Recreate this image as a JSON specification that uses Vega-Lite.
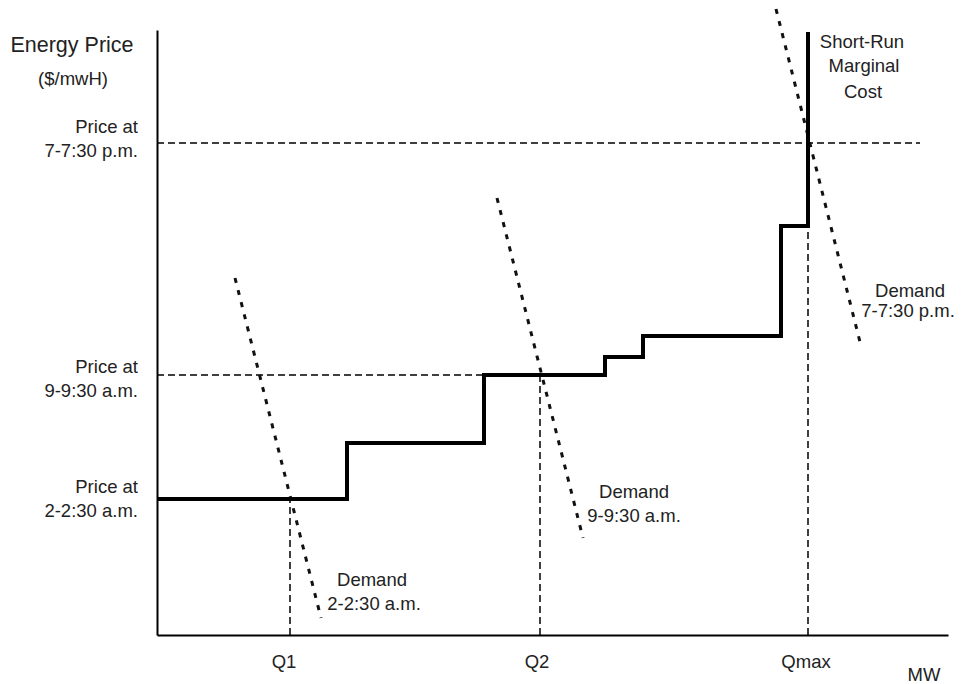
{
  "$schema": "https://vega.github.io/schema/vega-lite/v6.json",
  "width": 791,
  "height": 605,
  "autosize": {"type": "none"},
  "padding": {"left": 157, "top": 30, "right": 16, "bottom": 49},
  "background": "white",
  "config": {
    "view": {"stroke": null},
    "axis": {"domainColor": "black", "domainWidth": 2, "ticks": false, "labels": false, "grid": false, "title": null},
    "text": {"font": "Liberation Sans", "fontSize": 18.5, "color": "#222"}
  },
  "layer": [
    {
      "data": {"values": [{"x": 0, "y": 0}]},
      "mark": {"type": "point", "opacity": 0},
      "encoding": {
        "x": {"field": "x", "type": "quantitative", "scale": {"domain": [0, 791], "nice": false, "zero": false}, "axis": {"orient": "bottom"}},
        "y": {"field": "y", "type": "quantitative", "scale": {"domain": [0, 605], "nice": false, "zero": false}, "axis": {"orient": "left"}}
      }
    },
    {
      "data": {"values": [
        {"name": "Price 7-7:30 p.m.", "x": 0, "x2": 763, "y": 492, "y2": 492},
        {"name": "Price 9-9:30 a.m.", "x": 0, "x2": 327, "y": 260, "y2": 260},
        {"name": "Q1", "x": 133, "x2": 133, "y": 0, "y2": 136},
        {"name": "Q2", "x": 383, "x2": 383, "y": 0, "y2": 260},
        {"name": "Qmax", "x": 651, "x2": 651, "y": 0, "y2": 409}
      ]},
      "mark": {"type": "rule", "color": "black", "strokeWidth": 1.5, "strokeDash": [7, 4]},
      "encoding": {
        "x": {"field": "x", "type": "quantitative"},
        "x2": {"field": "x2"},
        "y": {"field": "y", "type": "quantitative"},
        "y2": {"field": "y2"}
      }
    },
    {
      "data": {"values": [
        {"name": "Demand 2-2:30 a.m.", "x": 78, "x2": 164, "y": 357, "y2": 17},
        {"name": "Demand 9-9:30 a.m.", "x": 340, "x2": 426, "y": 437, "y2": 97},
        {"name": "Demand 7-7:30 p.m.", "x": 619, "x2": 704, "y": 626, "y2": 289}
      ]},
      "mark": {"type": "rule", "color": "#111", "strokeWidth": 3, "strokeDash": [5, 7.5]},
      "encoding": {
        "x": {"field": "x", "type": "quantitative"},
        "x2": {"field": "x2"},
        "y": {"field": "y", "type": "quantitative"},
        "y2": {"field": "y2"}
      }
    },
    {
      "data": {"values": [
        {"mw": 0, "price": 136},
        {"mw": 190, "price": 192},
        {"mw": 327, "price": 260},
        {"mw": 448, "price": 278},
        {"mw": 486, "price": 299},
        {"mw": 624, "price": 409},
        {"mw": 651, "price": 603}
      ]},
      "mark": {"type": "line", "interpolate": "step-after", "color": "black", "strokeWidth": 4, "strokeJoin": "miter"},
      "encoding": {
        "x": {"field": "mw", "type": "quantitative"},
        "y": {"field": "price", "type": "quantitative"}
      }
    },
    {
      "data": {"values": [
        {"t": "Price at", "x": -19, "y": 502},
        {"t": "7-7:30 p.m.", "x": -19, "y": 478},
        {"t": "Price at", "x": -19, "y": 262},
        {"t": "9-9:30 a.m.", "x": -19, "y": 238},
        {"t": "Price at", "x": -19, "y": 142},
        {"t": "2-2:30 a.m.", "x": -19, "y": 118}
      ]},
      "mark": {"type": "text", "align": "right", "baseline": "alphabetic"},
      "encoding": {
        "x": {"field": "x", "type": "quantitative"},
        "y": {"field": "y", "type": "quantitative"},
        "text": {"field": "t"}
      }
    },
    {
      "data": {"values": [
        {"t": "Energy Price", "x": -85, "y": 583}
      ]},
      "mark": {"type": "text", "align": "center", "baseline": "alphabetic", "fontSize": 21.5},
      "encoding": {
        "x": {"field": "x", "type": "quantitative"},
        "y": {"field": "y", "type": "quantitative"},
        "text": {"field": "t"}
      }
    },
    {
      "data": {"values": [
        {"t": "($/mwH)", "x": -84, "y": 550},
        {"t": "Short-Run", "x": 705, "y": 587},
        {"t": "Marginal", "x": 707, "y": 563},
        {"t": "Cost", "x": 706, "y": 537},
        {"t": "Demand", "x": 753, "y": 338},
        {"t": "7-7:30 p.m.", "x": 751, "y": 318},
        {"t": "Demand", "x": 477, "y": 137},
        {"t": "9-9:30 a.m.", "x": 477, "y": 113},
        {"t": "Demand", "x": 215, "y": 49},
        {"t": "2-2:30 a.m.", "x": 217, "y": 25},
        {"t": "Q1", "x": 127, "y": -33},
        {"t": "Q2", "x": 380, "y": -33},
        {"t": "Qmax", "x": 649, "y": -33},
        {"t": "MW", "x": 767, "y": -46}
      ]},
      "mark": {"type": "text", "align": "center", "baseline": "alphabetic"},
      "encoding": {
        "x": {"field": "x", "type": "quantitative"},
        "y": {"field": "y", "type": "quantitative"},
        "text": {"field": "t"}
      }
    }
  ]
}
